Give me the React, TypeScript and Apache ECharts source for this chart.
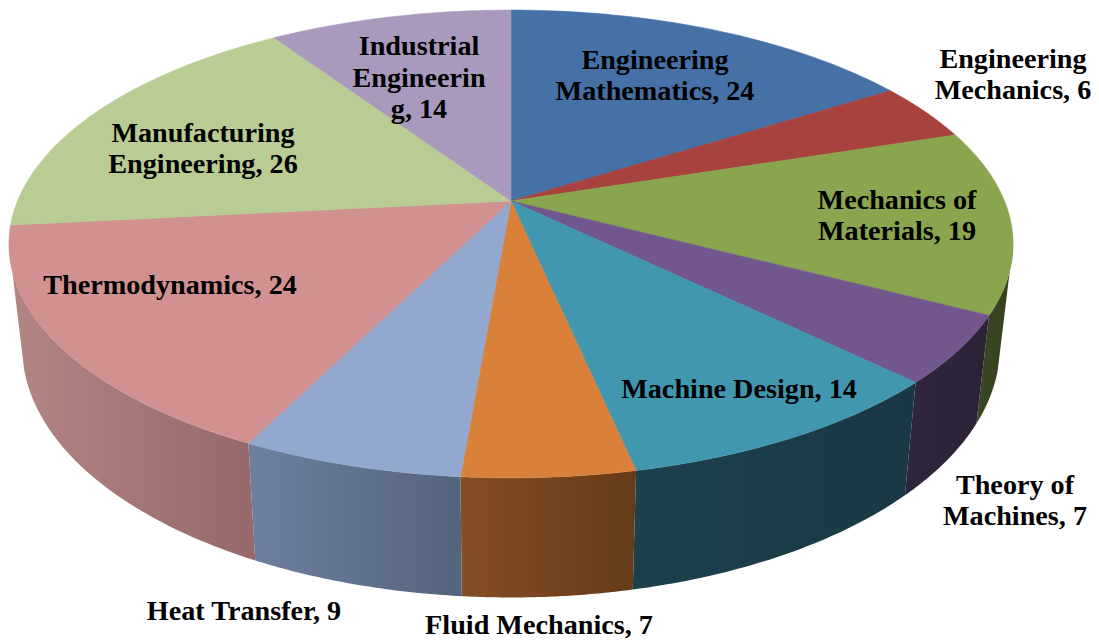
import React, { useEffect, useRef } from "react";
import * as echarts from "echarts";

// Data
const categories = [
  "Engineering\nMathematics",
  "Engineering\nMechanics",
  "Mechanics of\nMaterials",
  "Theory of\nMachines",
  "Machine Design",
  "Fluid Mechanics",
  "Heat Transfer",
  "Thermodynamics",
  "Manufacturing\nEngineering",
  "Industrial\nEngineerin\ng",
];
const values = [24, 6, 19, 7, 14, 7, 9, 24, 26, 14];

// Styles
const topColors = ["#4571A7", "#A7423F", "#89A54E", "#72578E", "#4097AF", "#D9813B", "#92A8CF", "#D09190", "#B8CC93", "#A99ABD"];
const sideColorsLeft = ["#2A4568", "#6A2A28", "#3C4725", "#30263C", "#1D404D", "#854E25", "#6D809E", "#B38583", "#6F7C58", "#665D72"];
const sideColorsRight = ["#2A4568", "#6A2A28", "#343F1F", "#2B2236", "#1A3843", "#653B18", "#55647D", "#96686A", "#6F7C58", "#665D72"];
// Label anchor points (centre of the text block), in pixels
const labelCenters = [
  [655, 75], [1013, 74], [897, 215], [1015, 500], [739, 388],
  [539, 624], [244, 610], [170, 284], [203, 148], [419, 77],
];

// Perspective projection of the disc
const CX = 511;
const PERSP = 0.1837;
const TOP = { y0: 201, a: 226, r: 493.5, edge: -PERSP };
const BOTTOM = { y0: 301, a: 242, r: 480.5, edge: -0.27 };
const STEPS = 48;

type Plane = { y0: number; a: number; r: number; edge: number };

const total = values.reduce((s, v) => s + v, 0);
const cumulative = values.reduce<number[]>((acc, v) => [...acc, acc[acc.length - 1] + v], [0]);
const angleOf = (c: number) => (c / total) * Math.PI * 2;

function project(theta: number, plane: Plane) {
  const u = Math.sin(theta);
  const v = Math.cos(theta);
  const d = 1 + PERSP * v;
  return [CX + (plane.r * u) / d, plane.y0 - (plane.a * v) / d];
}

function arc(i: number, plane: Plane) {
  const a0 = angleOf(cumulative[i]);
  const a1 = angleOf(cumulative[i + 1]);
  const pts: number[][] = [];
  for (let k = 0; k <= STEPS; k++) pts.push(project(a0 + ((a1 - a0) * k) / STEPS, plane));
  return pts;
}

// The part of a slice's rim that lies on the front of the cylinder
function frontArc(i: number, plane: Plane) {
  const limit = Math.acos(plane.edge);
  const a0 = Math.max(angleOf(cumulative[i]), limit);
  const a1 = Math.min(angleOf(cumulative[i + 1]), Math.PI * 2 - limit);
  if (a1 <= a0) return [];
  const pts: number[][] = [];
  for (let k = 0; k <= STEPS; k++) pts.push(project(a0 + ((a1 - a0) * k) / STEPS, plane));
  return pts;
}

const seriesData = values.map((value, i) => ({ name: categories[i], value }));

export default function App() {
  const ref = useRef<HTMLDivElement>(null);
  useEffect(() => {
    const chart = echarts.init(ref.current!, undefined, { renderer: "svg" });
    chart.setOption({
      animation: false,
      backgroundColor: "#ffffff",
      series: [
        {
          type: "custom",
          coordinateSystem: "none",
          z: 1,
          data: seriesData,
          renderItem: (params: any) => {
            const i = params.dataIndex;
            const upper = frontArc(i, TOP);
            const lower = frontArc(i, BOTTOM);
            if (!upper.length || !lower.length) return null;
            return {
              type: "polygon",
              shape: { points: [...upper, ...lower.reverse()] },
              style: {
                fill: new echarts.graphic.LinearGradient(0, 0, 1, 0, [
                  { offset: 0, color: sideColorsLeft[i] },
                  { offset: 1, color: sideColorsRight[i] },
                ]),
                stroke: null,
              },
            };
          },
        },
        {
          type: "custom",
          coordinateSystem: "none",
          z: 2,
          data: seriesData,
          renderItem: (params: any) => {
            const i = params.dataIndex;
            const points = [[CX, TOP.y0], ...arc(i, TOP)];
            return {
              type: "polygon",
              shape: { points },
              style: { fill: topColors[i], stroke: topColors[i], lineWidth: 0.6 },
            };
          },
        },
        {
          type: "custom",
          coordinateSystem: "none",
          z: 3,
          data: seriesData,
          renderItem: (params: any, api: any) => {
            const i = params.dataIndex;
            return {
              type: "text",
              x: labelCenters[i][0],
              y: labelCenters[i][1],
              style: {
                text: `${categories[i]}, ${api.value(0)}`,
                fontFamily: "Liberation Serif",
                fontWeight: "bold",
                fontSize: 28.2,
                lineHeight: 31.5,
                fill: "#000000",
                align: "center",
                verticalAlign: "middle",
              },
            };
          },
        },
      ],
    });
    return () => chart.dispose();
  }, []);
  return <div ref={ref} style={{ position: "absolute", left: 0, top: 0, width: 1099, height: 641 }} />;
}
